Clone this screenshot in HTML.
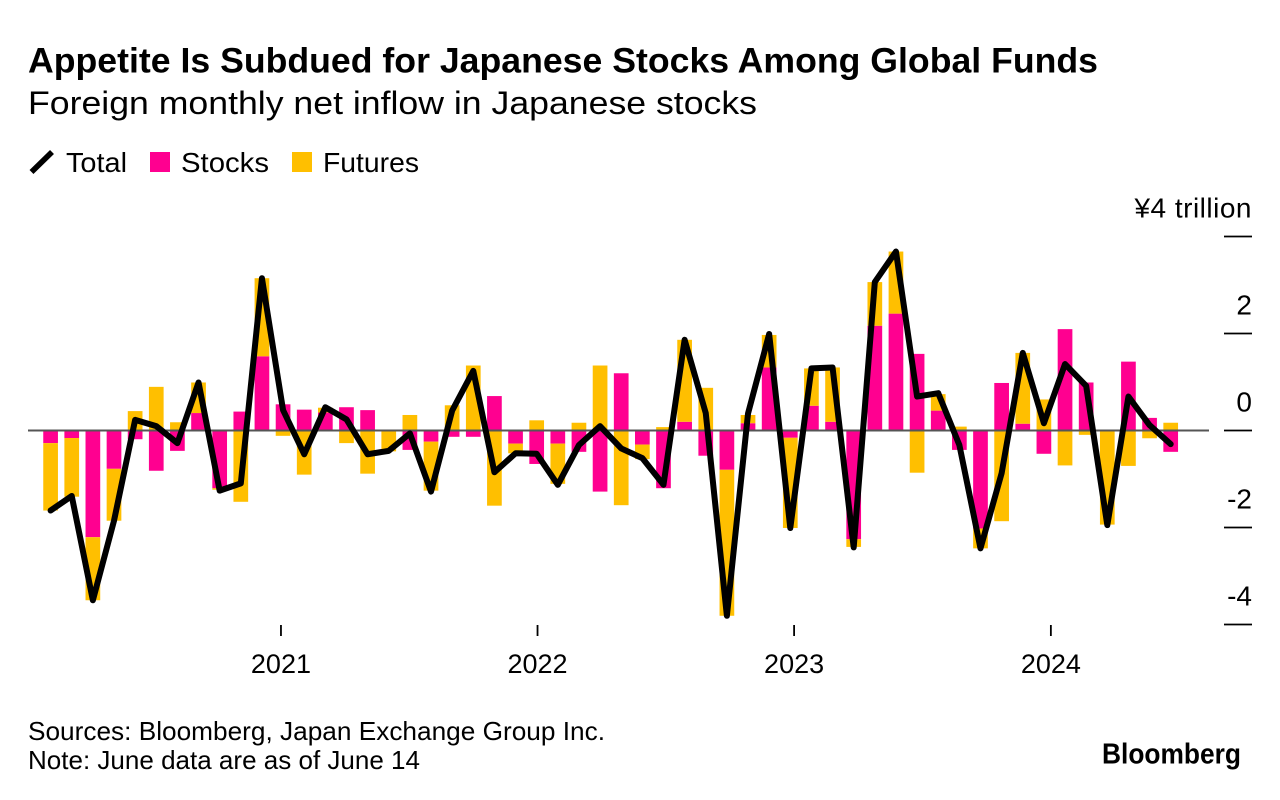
<!DOCTYPE html>
<html lang="en">
<head>
<meta charset="utf-8">
<title>Appetite Is Subdued for Japanese Stocks Among Global Funds</title>
<style>
html,body{margin:0;padding:0;background:#fff;}
svg{display:block;}
text{font-family:"Liberation Sans",sans-serif;fill:#000;}
</style>
</head>
<body>
<svg id="chart" width="1280" height="800" viewBox="0 0 1280 800" xmlns="http://www.w3.org/2000/svg">
  <text x="28" y="72.5" font-size="35" font-weight="700" textLength="1070" lengthAdjust="spacingAndGlyphs">Appetite Is Subdued for Japanese Stocks Among Global Funds</text>
  <text x="28" y="114" font-size="32.5" textLength="729" lengthAdjust="spacingAndGlyphs">Foreign monthly net inflow in Japanese stocks</text>

  <g>
    <line x1="31.5" y1="172" x2="52" y2="152" stroke="#000" stroke-width="5.6"/>
    <text x="66" y="172" font-size="28" textLength="61" lengthAdjust="spacingAndGlyphs">Total</text>
    <rect x="150" y="152" width="20" height="20" fill="#ff0090"/>
    <text x="181" y="172" font-size="28" textLength="88" lengthAdjust="spacingAndGlyphs">Stocks</text>
    <rect x="292" y="152" width="20" height="20" fill="#ffbf00"/>
    <text x="323" y="172" font-size="28" textLength="96" lengthAdjust="spacingAndGlyphs">Futures</text>
  </g>

  <g id="bars"></g>
  <line x1="28" y1="430.5" x2="1209" y2="430.5" stroke="#555" stroke-width="2"/>
  <g id="y-axis"></g>
  <g id="x-axis"></g>
  <path id="total-line" fill="none" stroke="#000" stroke-width="6" stroke-linejoin="round" stroke-linecap="round"/>

  <text x="28" y="740" font-size="26" textLength="577" lengthAdjust="spacingAndGlyphs">Sources: Bloomberg, Japan Exchange Group Inc.</text>
  <text x="28" y="769" font-size="26" textLength="392" lengthAdjust="spacingAndGlyphs">Note: June data are as of June 14</text>
  <text x="1102" y="763.5" font-size="29" font-weight="700" textLength="139" lengthAdjust="spacingAndGlyphs">Bloomberg</text>
</svg>
<script>
const months = ["2020-01","2020-02","2020-03","2020-04","2020-05","2020-06","2020-07","2020-08","2020-09","2020-10","2020-11","2020-12",
  "2021-01","2021-02","2021-03","2021-04","2021-05","2021-06","2021-07","2021-08","2021-09","2021-10","2021-11","2021-12",
  "2022-01","2022-02","2022-03","2022-04","2022-05","2022-06","2022-07","2022-08","2022-09","2022-10","2022-11","2022-12",
  "2023-01","2023-02","2023-03","2023-04","2023-05","2023-06","2023-07","2023-08","2023-09","2023-10","2023-11","2023-12",
  "2024-01","2024-02","2024-03","2024-04","2024-05","2024-06"];
const stocks = [-0.26,-0.155,-2.2,-0.79,-0.18,-0.83,-0.42,0.36,-1.19,0.39,1.53,0.54,
  0.43,0.37,0.48,0.42,0.02,-0.40,-0.23,-0.13,-0.13,0.71,-0.27,-0.69,
  -0.27,-0.44,-1.26,1.18,-0.29,-1.19,0.18,-0.52,-0.81,0.15,1.30,-0.15,
  0.51,0.18,-2.24,2.16,2.41,1.58,0.41,-0.40,-2.02,0.98,0.14,-0.48,
  2.09,0.99,-0.01,1.42,0.26,-0.44];
const futures = [-1.39,-1.21,-1.30,-1.07,0.40,0.90,0.17,0.63,-0.03,-1.47,1.61,-0.11,
  -0.91,0.10,-0.26,-0.89,-0.43,0.32,-1.01,0.52,1.34,-1.55,-0.20,0.21,
  -0.83,0.16,1.34,-1.54,-0.30,0.07,1.69,0.88,-3.01,0.17,0.67,-1.86,
  0.77,1.12,-0.16,0.90,1.28,-0.87,0.34,0.08,-0.41,-1.87,1.46,0.64,
  -0.72,-0.09,-1.93,-0.73,-0.16,0.16];
const totals = [-1.65,-1.35,-3.5,-1.86,0.22,0.09,-0.26,0.99,-1.24,-1.09,3.14,0.42,
  -0.49,0.48,0.23,-0.49,-0.42,-0.06,-1.26,0.41,1.23,-0.86,-0.47,-0.48,
  -1.12,-0.30,0.09,-0.37,-0.57,-1.12,1.87,0.36,-3.82,0.35,1.99,-2.01,
  1.28,1.30,-2.41,3.06,3.69,0.70,0.77,-0.30,-2.43,-0.88,1.60,0.15,
  1.37,0.92,-1.95,0.70,0.11,-0.28];
const yTickValues = [4,2,0,-2,-4];
const yTickLabels = ["¥4 trillion","2","0","-2","-4"];
const xTickLabels = ["2021","2022","2023","2024"];
const xTickMonthOffsets = [10.9,23.04,35.18,47.33];

const SVG_NS = "http://www.w3.org/2000/svg";
const BAR_WIDTH = 14.7;
const xScale = function (i) { return 50.6 + i * (1170.7 - 50.6) / 53; };
const yScale = function (v) { return 430.5 - v * 48.5; };

function make(tag, attrs, parent) {
  const el = document.createElementNS(SVG_NS, tag);
  Object.keys(attrs).forEach(function (k) { el.setAttribute(k, attrs[k]); });
  parent.appendChild(el);
  return el;
}

const barsGroup = document.getElementById("bars");
months.forEach(function (month, i) {
  const s = stocks[i];
  const f = futures[i];
  const x = xScale(i) - BAR_WIDTH / 2;
  const stockRect = make("rect", {x: x, width: BAR_WIDTH, y: Math.min(yScale(0), yScale(s)), height: Math.abs(yScale(s) - yScale(0)), fill: "#ff0090"}, barsGroup);
  
  
  const base = (s > 0) === (f > 0) ? s : 0;
  const futureRect = make("rect", {x: x, width: BAR_WIDTH, y: Math.min(yScale(base), yScale(base + f)), height: Math.abs(yScale(base + f) - yScale(base)), fill: "#ffbf00"}, barsGroup);
  
  
});

const yAxis = document.getElementById("y-axis");
yTickValues.forEach(function (v, i) {
  const tick = make("line", {x1: 1224, x2: 1252, y1: yScale(v), y2: yScale(v), stroke: "#000", "stroke-width": 1.8}, yAxis);
  
  
  const label = make("text", {x: 1252, y: yScale(v) - 19, "text-anchor": "end", "font-size": 28, "letter-spacing": i === 0 ? 0.5 : 0}, yAxis);
  label.textContent = yTickLabels[i];
  
  
});

const xAxis = document.getElementById("x-axis");
xTickLabels.forEach(function (year, i) {
  const px = xScale(xTickMonthOffsets[i]);
  const tick = make("line", {x1: px, x2: px, y1: 625, y2: 636, stroke: "#000", "stroke-width": 1.8}, xAxis);
  
  
  const label = make("text", {x: px, y: 673, "text-anchor": "middle", "font-size": 27}, xAxis);
  label.textContent = year;
  
  
});

document.getElementById("total-line").setAttribute("d", totals.map(function (v, i) {
  return (i ? "L" : "M") + xScale(i).toFixed(2) + " " + yScale(v).toFixed(2);
}).join(" "));
</script>
</body>
</html>
